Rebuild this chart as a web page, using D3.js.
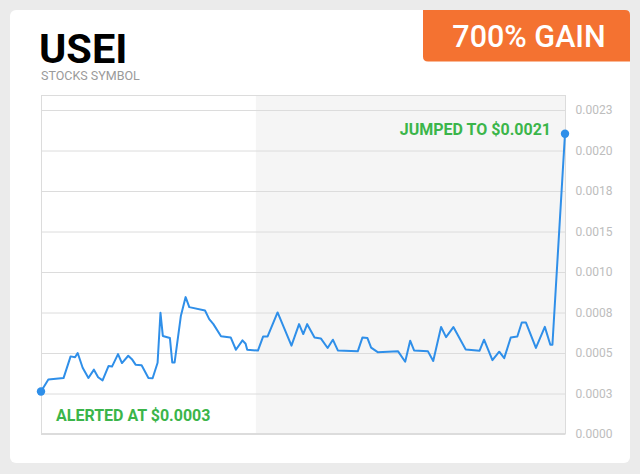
<!DOCTYPE html>
<html>
<head>
<meta charset="utf-8">
<script src="https://cdn.jsdelivr.net/npm/d3@7"></script>
<style>
  html, body { margin: 0; padding: 0; background: #ebebeb; }
  svg { display: block; font-family: Roboto, "Noto Sans", sans-serif; }
</style>
</head>
<body>
<svg id="chart" width="640" height="474"></svg>
<script>
// ---- data ----
const symbol = "USEI";
const subtitle = "STOCKS SYMBOL";
const badgeText = "700% GAIN";
const alertText = "ALERTED AT $0.0003";
const jumpText = "JUMPED TO $0.0021";

// trading-day offsets (x) and closing prices (y)
const days = [0, 2.8, 8.6, 11.3, 13.0, 14.0, 15.9, 18.1, 20.2, 21.8,
  23.5, 25.8, 27.1, 29.4, 30.9, 33.3, 34.7, 36.1, 38.4, 41.0,
  42.6, 44.5, 45.6, 46.5, 49.2, 50.1, 51.0, 53.4, 55.2, 56.6,
  62.6, 64.2, 65.8, 68.7, 72.4, 74.4, 76.9, 78.1, 78.7, 82.8,
  84.8, 86.5, 90.3, 95.6, 98.5, 100.1, 101.6, 104.4, 106.8, 109.4,
  111.4, 113.3, 120.9, 122.7, 124.6, 126.0, 128.5, 136.3, 139.0, 140.9,
  142.4, 147.7, 149.7, 152.7, 154.6, 157.4, 162.1, 167.4, 169.1, 172.3,
  174.9, 176.8, 179.3, 181.8, 183.5, 185.1, 188.9, 192.3, 194.4, 195.2,
  200];
const prices = [0.000259, 0.000333, 0.000342, 0.000476, 0.000471, 0.000497, 0.000406, 0.000343, 0.000394, 0.000347,
  0.000328, 0.000417, 0.000413, 0.000490, 0.000435, 0.000480, 0.000459, 0.000425, 0.000421, 0.000343,
  0.000341, 0.000437, 0.000745, 0.000602, 0.000589, 0.000439, 0.000439, 0.000727, 0.000842, 0.000780,
  0.000759, 0.000706, 0.000675, 0.000600, 0.000593, 0.000517, 0.000575, 0.000554, 0.000517, 0.000512,
  0.000599, 0.000599, 0.000747, 0.000542, 0.000675, 0.000614, 0.000675, 0.000593, 0.000587, 0.000528,
  0.000579, 0.000513, 0.000507, 0.000593, 0.000589, 0.000530, 0.000502, 0.000507, 0.000443, 0.000573,
  0.000513, 0.000507, 0.000448, 0.000657, 0.000595, 0.000657, 0.000519, 0.000511, 0.000579, 0.000453,
  0.000505, 0.000465, 0.000593, 0.000599, 0.000685, 0.000685, 0.000528, 0.000658, 0.000548, 0.000548,
  0.0021];
const highlightStartDay = 82;
const tickValues = [0, 0.00025, 0.0005, 0.00075, 0.001, 0.0015, 0.00175, 0.002, 0.00225];
const tickLabels = ["0.0000", "0.0003", "0.0005", "0.0008", "0.0010", "0.0015", "0.0018", "0.0020", "0.0023"];

// ---- layout ----
const svg = d3.select("#chart");
const plot = { left: 41, right: 565.5, top: 95.5, bottom: 433.5 };
const step = 40.5;

// card
svg.append("rect").attr("x", 10).attr("y", 10).attr("width", 620).attr("height", 453)
  .attr("rx", 6).attr("fill", "#ffffff");

// badge (rounded bottom-left, and top-right)
const bx = 423, by = 10, bw = 207, bh = 51.5, r = 5;
svg.append("path")
  .attr("d", `M${bx},${by} H${bx + bw - r} Q${bx + bw},${by} ${bx + bw},${by + r} V${by + bh} H${bx + r} Q${bx},${by + bh} ${bx},${by + bh - r} Z`)
  .attr("fill", "#f47231");
svg.append("text").attr("x", bx + bw / 2 + 2.5).attr("y", 47)
  .attr("text-anchor", "middle").attr("fill", "#ffffff")
  .attr("font-size", 30.5).attr("font-weight", 500).text(badgeText);

// titles
svg.append("text").attr("x", 39).attr("y", 62.5).attr("fill", "#000")
  .attr("font-size", 41.5).attr("font-weight", 700).text(symbol);
svg.append("text").attr("x", 41).attr("y", 79.5).attr("fill", "#9a9a9a")
  .attr("font-size", 12.5).text(subtitle);

// scales
const x = d3.scaleLinear().domain([0, 200]).range([plot.left, plot.right - 0.5]);
const y = d3.scaleLinear()
  .domain([0, 0.001, 0.0015, 0.00225])
  .range([plot.bottom, plot.bottom - 4 * step, plot.bottom - 5 * step, plot.bottom - 8 * step]);

// highlight band
svg.append("rect")
  .attr("x", x(highlightStartDay)).attr("y", plot.top)
  .attr("width", plot.right - x(highlightStartDay)).attr("height", plot.bottom - plot.top)
  .attr("fill", "#f5f5f5");

// gridlines + axis labels
const yAxis = d3.axisRight(y).tickValues(tickValues)
  .tickFormat((d, i) => tickLabels[i]).tickSize(-(plot.right - plot.left)).tickPadding(10);
const gAxis = svg.append("g").attr("transform", `translate(${plot.right},0)`).call(yAxis);
gAxis.select(".domain").remove();
gAxis.selectAll(".tick line").attr("stroke", "#dcdcdc").attr("stroke-width", 1)
  .attr("transform", "translate(0,0.5)");
gAxis.selectAll(".tick text").attr("fill", "#bdbdbd").attr("font-size", 12)
  .attr("font-family", "Roboto, sans-serif").attr("x", 10).attr("dy", "0.36em");

// frame
svg.append("rect").attr("x", plot.left + 0.5).attr("y", plot.top)
  .attr("width", plot.right - plot.left - 0.5).attr("height", plot.bottom - plot.top)
  .attr("fill", "none").attr("stroke", "#dcdcdc").attr("stroke-width", 1);

// line
const data = days.map((d, i) => ({ d, p: prices[i] }));
svg.append("path").datum(data)
  .attr("fill", "none").attr("stroke", "#2f8fe9").attr("stroke-width", 2)
  .attr("stroke-linejoin", "round")
  .attr("d", d3.line().x(v => x(v.d)).y(v => y(v.p)));

// end markers
const ends = [data[0], data[data.length - 1]];
svg.selectAll("circle.end").data(ends).join("circle")
  .attr("class", "end").attr("cx", v => x(v.d)).attr("cy", v => y(v.p))
  .attr("r", 4.2).attr("fill", "#2f8fe9");

// annotations
svg.append("text").attr("x", 56).attr("y", 421).attr("fill", "#3bb54a")
  .attr("font-size", 16).attr("font-weight", 700).text(alertText);
svg.append("text").attr("x", 551).attr("y", 135).attr("text-anchor", "end")
  .attr("fill", "#3bb54a").attr("font-size", 16).attr("font-weight", 700).text(jumpText);
</script>
</body>
</html>
